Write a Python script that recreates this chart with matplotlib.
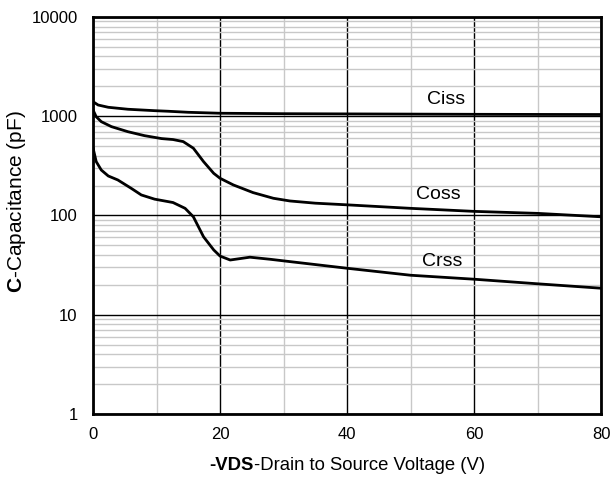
import numpy as np
import matplotlib.pyplot as plt
from matplotlib.ticker import FixedLocator, NullFormatter
from matplotlib.offsetbox import TextArea, HPacker, AnchoredOffsetbox

plt.rcParams['font.family'] = ['Liberation Sans', 'DejaVu Sans']
plt.rcParams['mathtext.fontset'] = 'custom'
plt.rcParams['mathtext.rm'] = 'Liberation Sans'
plt.rcParams['mathtext.bf'] = 'Liberation Sans:bold'

# capacitance vs -VDS (V, pF)
ciss_v = [0, 0.8, 2.4, 5.5, 9.7, 11.8, 15, 20, 30, 40, 50, 60, 70, 80]
ciss_c = [1400, 1297, 1230, 1175, 1137, 1122, 1095, 1071, 1060, 1055, 1050, 1045, 1042, 1040]

coss_v = [0, 0.5, 1.3, 2.9, 5.5, 8.1, 10.8, 12.6, 14.2, 15.8, 17.4, 19, 20, 22.1, 25.2,
          28.4, 31, 35, 40, 50, 60, 70, 80]
coss_c = [1156, 988, 881, 785, 698, 637, 595, 582, 555, 476, 349, 266, 237, 203, 170,
          149, 140, 133, 128, 118, 110, 105, 97]

crss_v = [0, 0.5, 1.3, 2.4, 3.9, 6.0, 7.6, 9.7, 11.8, 12.6, 14.5, 15.8, 17.4, 19, 20,
          21.6, 24.7, 27.9, 31, 40, 50, 60, 70, 80]
crss_c = [480, 349, 287, 250, 228, 188, 161, 146, 138, 135, 118, 97, 61, 45, 39,
          35.6, 38, 36.2, 34.3, 29.4, 25, 22.8, 20.5, 18.5]

fig = plt.figure(figsize=(6.14, 4.84), dpi=100)
ax = fig.add_axes([0.1515, 0.1446, 0.8275, 0.8204])

for v, c in [(ciss_v, ciss_c), (coss_v, coss_c), (crss_v, crss_c)]:
    ax.plot(v, c, color='black', lw=2.0, zorder=3, solid_joinstyle='round')

ax.set_yscale('log')
ax.set_xlim(0, 80)
ax.set_ylim(1, 10000)

ax.xaxis.set_major_locator(FixedLocator([0, 20, 40, 60, 80]))
ax.xaxis.set_minor_locator(FixedLocator([10, 30, 50, 70]))
ax.yaxis.set_major_locator(FixedLocator([1, 10, 100, 1000, 10000]))
ax.yaxis.set_minor_locator(FixedLocator([m * 10 ** d for d in range(4) for m in range(2, 10)]))
ax.yaxis.set_minor_formatter(NullFormatter())
ax.set_yticklabels(['1', '10', '100', '1000', '10000'])

ax.grid(which='major', color='black', lw=1.0, zorder=1)
ax.grid(which='minor', color='#c8c8c8', lw=1.0, zorder=0)
ax.tick_params(which='both', length=0, labelsize=12)
ax.tick_params(axis='x', pad=9)
ax.tick_params(axis='y', pad=11)
for s in ax.spines.values():
    s.set_linewidth(2.0)
    s.set_zorder(4)

ax.text(55.6, 1475, 'Ciss', fontsize=14, ha='center', va='center')
ax.text(54.4, 161, 'Coss', fontsize=14, ha='center', va='center')
ax.text(55.0, 34, 'Crss', fontsize=14, ha='center', va='center')

ax.set_ylabel(r'$\mathbf{C}$-Capacitance (pF)', fontsize=15)
ax.yaxis.set_label_coords(-0.128, 0.534)

xl = HPacker(children=[TextArea('-VDS', textprops=dict(fontsize=13.3, fontweight='bold')),
                       TextArea('-Drain to Source Voltage (V)', textprops=dict(fontsize=13.3))],
             align='baseline', pad=0, sep=0)
box = AnchoredOffsetbox(loc='center', child=xl, frameon=False, pad=0,
                        bbox_to_anchor=(0.5, -0.13), bbox_transform=ax.transAxes, borderpad=0)
ax.add_artist(box)

fig.savefig('out.png', dpi=100)
